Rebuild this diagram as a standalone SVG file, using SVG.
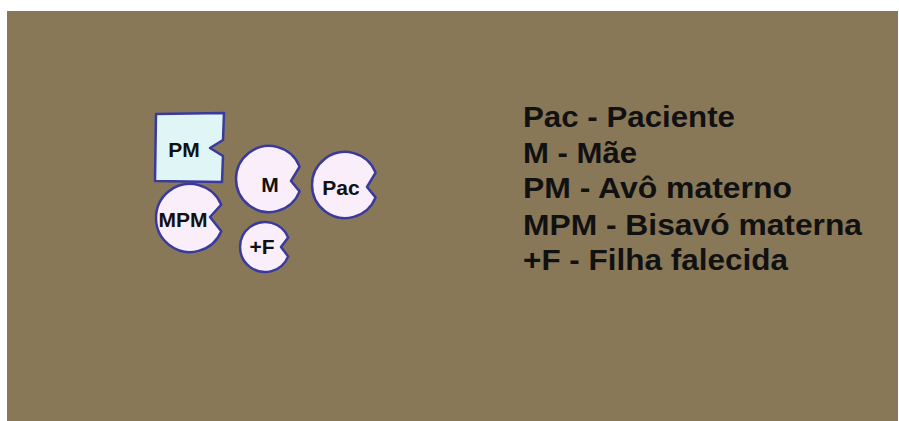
<svg xmlns="http://www.w3.org/2000/svg" width="899" height="421" viewBox="0 0 899 421">
<style>
.shape{stroke:#3a3a9e;stroke-width:2.5;stroke-linejoin:round}
.f{fill:#f9eefa}
.m{fill:#e0f6f6}
.lbl{font-family:"Liberation Sans",Arial,sans-serif;font-weight:bold;font-size:21px;fill:#111;text-anchor:middle}
.leg{font-family:"Liberation Sans",Arial,sans-serif;font-weight:bold;font-size:29px;fill:#111}
</style>
<rect x="0" y="0" width="899" height="421" fill="#ffffff"/>
<rect x="7" y="11" width="891" height="410" fill="#887858"/>
<g id="connectors"></g>
<g id="node-PM">
<path class="shape m" d="M156,114 L224,113 L223,140 L210,148 L223,156 L222,182 L155,181 Z"/>
<text class="lbl" x="184" y="157">PM</text>
</g>
<g id="node-MPM">
<path class="shape f" d="M221.3,204.7 A34,34 0 1 0 221.3,231.3 L210,217 Z"/>
<text class="lbl" x="183" y="227">MPM</text>
</g>
<g id="node-M">
<path class="shape f" d="M299.6,166.6 A33,33 0 1 0 299.6,191.4 L291,181 Z"/>
<text class="lbl" x="270" y="192">M</text>
</g>
<g id="node-Pac">
<path class="shape f" d="M375.6,172.6 A33,33 0 1 0 375.6,197.4 L367,187 Z"/>
<text class="lbl" x="341" y="195">Pac</text>
</g>
<g id="node-F">
<path class="shape f" d="M288.2,237.6 A25,25 0 1 0 288.2,256.4 L281,247 Z"/>
<text class="lbl" x="262" y="254">+F</text>
</g>
<g id="legend">
<text class="leg" x="523" y="127" textLength="212" lengthAdjust="spacingAndGlyphs">Pac - Paciente</text>
<text class="leg" x="523" y="163" textLength="114" lengthAdjust="spacingAndGlyphs">M - Mãe</text>
<text class="leg" x="523" y="198" textLength="269" lengthAdjust="spacingAndGlyphs">PM - Avô materno</text>
<text class="leg" x="523" y="235" textLength="339" lengthAdjust="spacingAndGlyphs">MPM - Bisavó materna</text>
<text class="leg" x="523" y="270" textLength="265" lengthAdjust="spacingAndGlyphs">+F - Filha falecida</text>
</g>
</svg>
